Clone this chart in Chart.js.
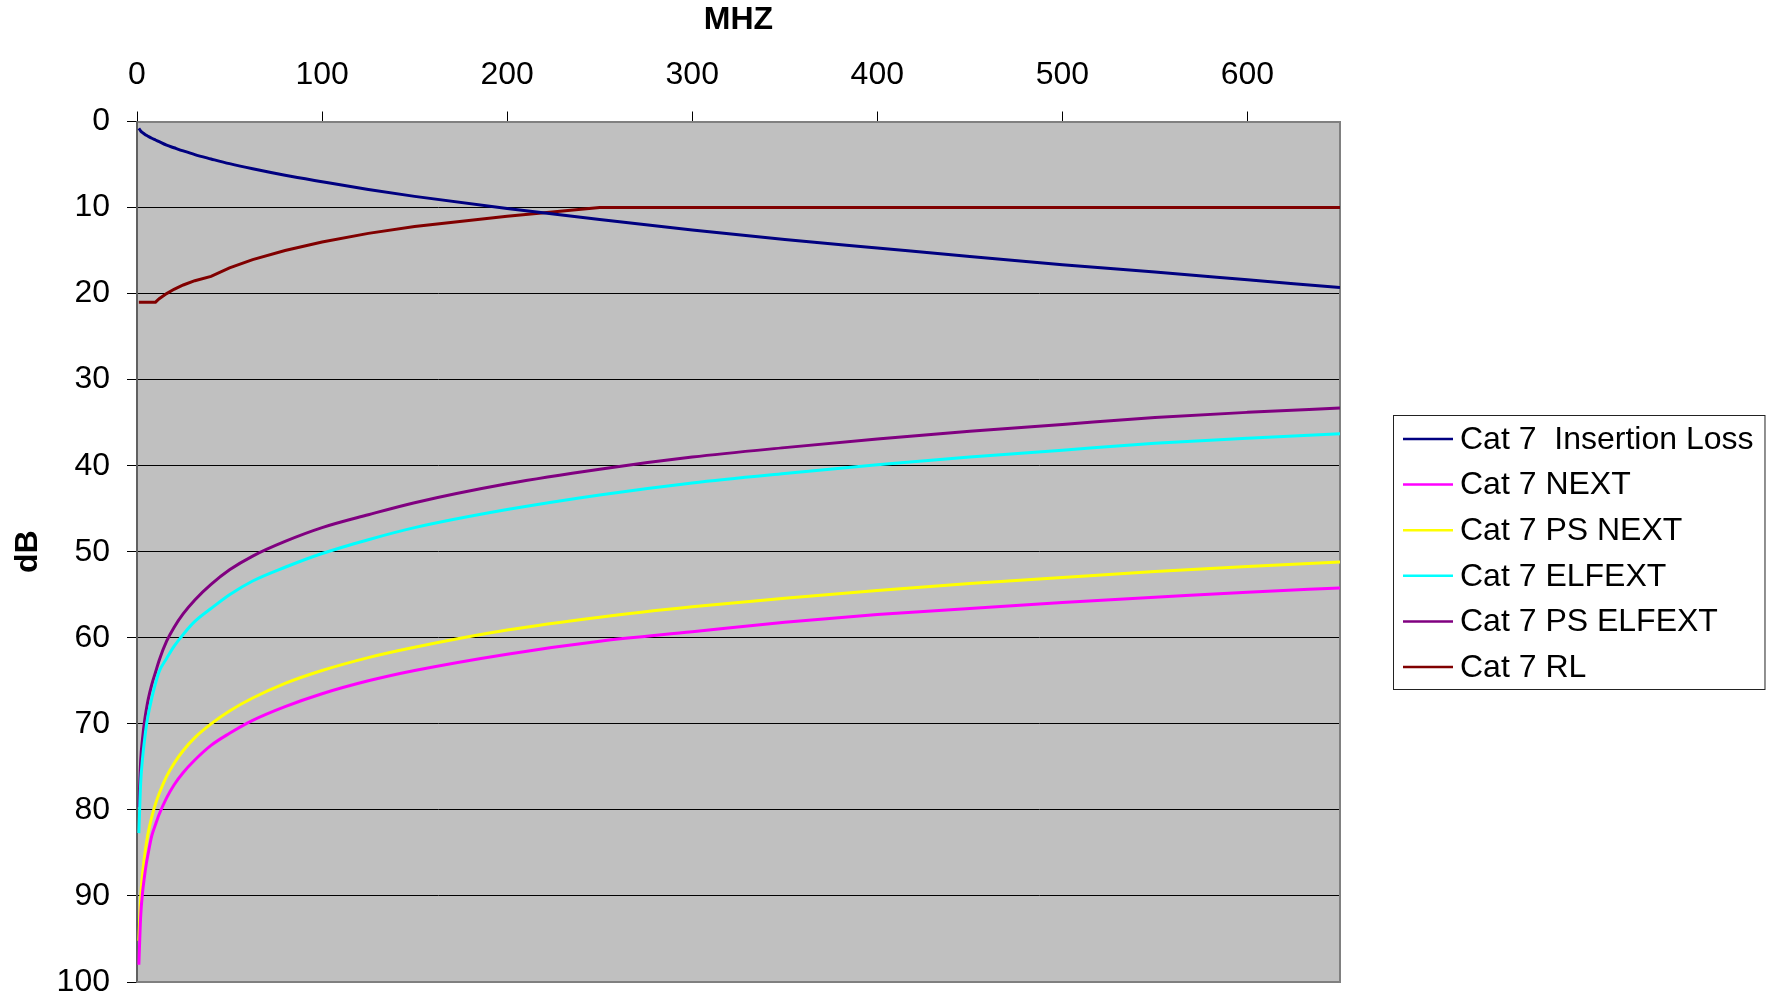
<!DOCTYPE html>
<html>
<head>
<meta charset="utf-8">
<title>Cat 7</title>
<script src="https://cdn.jsdelivr.net/npm/chart.js@4.4.1/dist/chart.umd.min.js"></script>
<style>
  html, body { margin: 0; padding: 0; background: #fff; }
  #wrap { width: 1777px; height: 997px; position: relative; }
</style>
</head>
<body>
<div id="wrap"><canvas id="chart"></canvas></div>
<script>
// frequency points (MHz)
const freqs = [1, 2, 3, 4, 5, 6, 8, 10, 12, 16, 20, 25, 31.25, 40, 50, 62.5, 80, 100, 125, 150, 200, 250, 300, 350, 400, 450, 500, 550, 600, 650];

// dB values
const insertionLoss = [0.8, 1.1, 1.3, 1.45, 1.6, 1.72, 1.95, 2.15, 2.35, 2.75, 3.05, 3.42, 3.85, 4.35, 4.9, 5.5, 6.25, 7.0, 7.9, 8.7, 10.1, 11.4, 12.6, 13.7, 14.7, 15.7, 16.65, 17.5, 18.4, 19.3];
const next = [98.0, 92.3, 89.6, 87.8, 86.3, 85.1, 83.0, 81.7, 80.5, 78.6, 77.1, 75.65, 74.2, 72.5, 71.1, 69.6, 68.0, 66.5, 65.0, 63.8, 61.9, 60.4, 59.3, 58.2, 57.3, 56.6, 55.9, 55.3, 54.7, 54.2];
const psNext = [95.2, 90.1, 87.4, 85.5, 84.0, 82.7, 80.8, 79.3, 78.1, 76.1, 74.6, 73.1, 71.6, 70.0, 68.5, 67.0, 65.3, 63.8, 62.3, 61.1, 59.1, 57.6, 56.4, 55.4, 54.5, 53.7, 53.0, 52.3, 51.7, 51.2];
const elfext = [82.7, 76.8, 74.0, 72.0, 70.3, 69.0, 67.0, 65.3, 63.9, 62.4, 61.0, 59.6, 58.1, 56.6, 55.0, 53.4, 51.8, 50.2, 48.6, 47.2, 45.1, 43.4, 42.0, 40.9, 39.9, 39.0, 38.2, 37.4, 36.8, 36.3];
const psElfext = [79.7, 74.2, 71.7, 69.8, 68.4, 67.2, 65.4, 64.0, 62.6, 60.4, 58.8, 57.2, 55.6, 53.8, 52.1, 50.5, 48.8, 47.2, 45.7, 44.3, 42.1, 40.4, 39.0, 37.9, 36.9, 36.0, 35.2, 34.4, 33.8, 33.3];
const returnLoss = [21, 21, 21, 21, 21, 21, 21, 21, 20.6, 20.0, 19.5, 19.0, 18.5, 18.0, 17.0, 16.05, 15.0, 14.0, 13.0, 12.2, 11.0, 10.0, 10, 10, 10, 10, 10, 10, 10, 10];

const xTicks = [0, 100, 200, 300, 400, 500, 600];
const yTicks = [0, 10, 20, 30, 40, 50, 60, 70, 80, 90, 100];

const FONT = "'Liberation Sans', Arial, sans-serif";
Chart.defaults.font.family = FONT;
Chart.defaults.color = "#000";

function points(values) {
    return freqs.map((f, i) => ({ x: f, y: values[i] }));
}

function series(label, values, color, smooth) {
    return {
        label: label,
        data: points(values),
        borderColor: color,
        backgroundColor: color,
        borderWidth: 3,
        pointRadius: 0,
        fill: false,
        cubicInterpolationMode: smooth ? "monotone" : "default",
        tension: 0,
    };
}

// grey plot area + right/bottom frame
const plotFrame = {
    id: "plotFrame",
    beforeDraw(chart) {
        const { ctx, chartArea: a } = chart;
        ctx.save();
        ctx.fillStyle = "#c0c0c0";
        ctx.fillRect(a.left, a.top, a.right - a.left, a.bottom - a.top);
        ctx.restore();
    },
    beforeDatasetsDraw(chart) {
        const { ctx, chartArea: a } = chart;
        ctx.save();
        ctx.strokeStyle = "#808080";
        ctx.lineWidth = 2;
        ctx.beginPath();
        ctx.moveTo(a.left, a.bottom);
        ctx.lineTo(a.right, a.bottom);
        ctx.lineTo(a.right, a.top);
        ctx.stroke();
        ctx.restore();
    },
};

// boxed legend to the right of the plot
const boxLegend = {
    id: "boxLegend",
    afterDraw(chart) {
        const ctx = chart.ctx;
        const a = chart.chartArea;
        const sets = chart.data.datasets;
        const rowH = 45.6, lineLen = 50, gap = 7, padL = 10, padR = 11, padT = 24, padB = 22;
        ctx.save();
        ctx.font = "32px " + FONT;
        let textW = 0;
        sets.forEach(ds => { textW = Math.max(textW, ctx.measureText(ds.label).width); });
        const w = padL + lineLen + gap + textW + padR;
        const h = padT + padB + rowH * (sets.length - 1);
        const left = Math.round(a.right + 53);
        const top = Math.round((a.top + a.bottom) / 2 - h / 2);
        ctx.fillStyle = "#fff";
        ctx.fillRect(left, top, w, h);
        ctx.strokeStyle = "#222";
        ctx.lineWidth = 1;
        ctx.strokeRect(left + 0.5, top + 0.5, w, h);
        ctx.textBaseline = "middle";
        sets.forEach((ds, i) => {
            const y = top + padT + i * rowH;
            ctx.strokeStyle = ds.borderColor;
            ctx.lineWidth = 2.5;
            ctx.beginPath();
            ctx.moveTo(left + padL, y);
            ctx.lineTo(left + padL + lineLen, y);
            ctx.stroke();
            ctx.fillStyle = "#000";
            ctx.fillText(ds.label, left + padL + lineLen + gap, y + 1);
        });
        ctx.restore();
    },
};

new Chart(document.getElementById("chart"), {
    type: "line",
    data: {
        datasets: [
            series("Cat 7  Insertion Loss", insertionLoss, "#000080", true),
            series("Cat 7 NEXT", next, "#ff00ff", true),
            series("Cat 7 PS NEXT", psNext, "#ffff00", true),
            series("Cat 7 ELFEXT", elfext, "#00ffff", true),
            series("Cat 7 PS ELFEXT", psElfext, "#800080", true),
            series("Cat 7 RL", returnLoss, "#800000", false),
        ],
    },
    options: {
        responsive: true,
        maintainAspectRatio: false,
        animation: false,
        layout: { padding: { left: 0, top: 0, right: 437, bottom: 15 } },
        plugins: {
            legend: { display: false },
            tooltip: { enabled: false },
        },
        scales: {
            x: {
                type: "linear",
                position: "top",
                min: 0,
                max: 650,
                afterBuildTicks: axis => { axis.ticks = xTicks.map(v => ({ value: v })); },
                afterFit: axis => { axis.height = 121.5; axis.paddingLeft = 0; axis.paddingRight = 0; },
                grid: { drawOnChartArea: false, color: "#000", tickLength: 10 },
                border: { color: "#808080", width: 2 },
                ticks: { color: "#000", padding: 17, maxRotation: 0, font: { size: 32 } },
                title: {
                    display: true,
                    text: "MHZ",
                    color: "#000",
                    font: { size: 32, weight: "bold" },
                    padding: { top: 1, bottom: 0 },
                },
            },
            y: {
                type: "linear",
                reverse: true,
                min: 0,
                max: 100,
                afterBuildTicks: axis => { axis.ticks = yTicks.map(v => ({ value: v })); },
                afterFit: axis => { axis.width = 137; axis.paddingTop = 0; axis.paddingBottom = 0; },
                grid: { color: "#000", tickLength: 10 },
                border: { color: "#606060", width: 2 },
                ticks: { color: "#000", padding: 17, font: { size: 32 } },
                title: {
                    display: true,
                    text: "dB",
                    color: "#000",
                    font: { size: 32, weight: "bold" },
                    padding: { top: 9, bottom: 0 },
                },
            },
        },
    },
    plugins: [plotFrame, boxLegend],
});
</script>
</body>
</html>
